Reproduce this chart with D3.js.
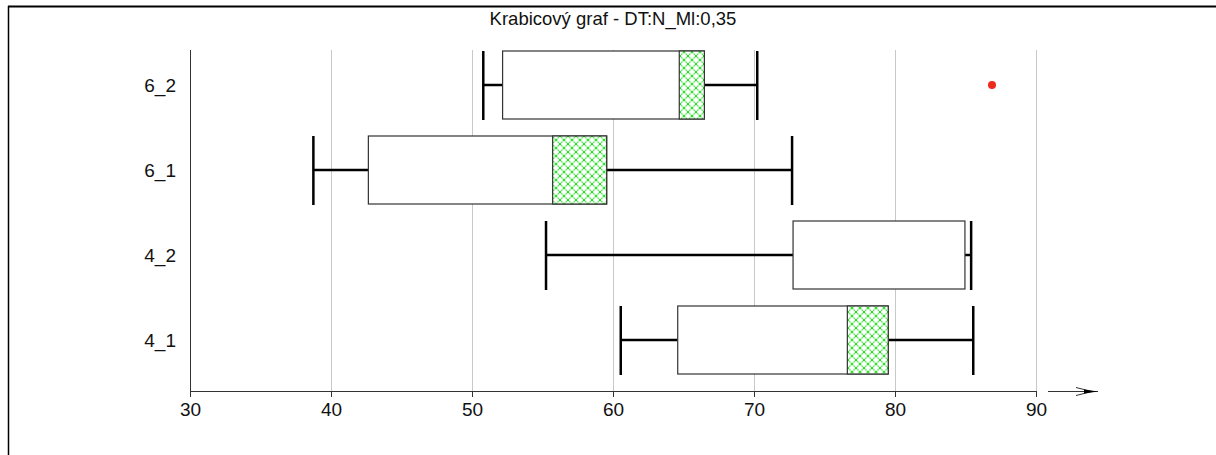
<!DOCTYPE html>
<html><head><meta charset="utf-8">
<script src="https://cdn.jsdelivr.net/npm/d3@7"></script>
<style>body{margin:0;background:#fff}svg{display:block;font-family:"Liberation Sans",Arial,sans-serif}</style>
</head><body><svg id="c" width="1216" height="455"></svg>
<script>
const categories = ["6_2","6_1","4_2","4_1"];
const whiskerLow  = [50.80, 38.75, 55.25, 60.55];
const q1          = [52.17, 42.65, 72.77, 64.59];
const q3          = [66.48, 59.55, 84.96, 79.52];
const whiskerHigh = [70.23, 72.70, 85.40, 85.55];
const hatchStart  = [64.70, 55.72, null, 76.62];
const hatchEnd    = [66.48, 59.55, null, 79.52];
const outliers    = [[86.88], [], [], []];
const xTicks = [30,40,50,60,70,80,90];
const title = "Krabicový graf - DT:N_Ml:0,35";

const svg = d3.select("#c");
const x = d3.scaleLinear().domain([30,90]).range([190,1036]);
const y = d3.scaleBand().domain(categories).range([42.5,382.5]);
const yTop = 50, yBot = 391;

const defs = svg.append("defs");
const pat = defs.append("pattern").attr("id","hatch").attr("patternUnits","userSpaceOnUse")
  .attr("width",8).attr("height",8);
pat.append("rect").attr("width",8).attr("height",8).attr("fill","#fff");
pat.append("path").attr("d","M0,0L8,8M8,0L0,8").attr("stroke","#14e014").attr("stroke-width",1.1).attr("stroke-dasharray","1.4,0.6");

// frame
svg.append("line").attr("x1",8).attr("x2",1216).attr("y1",6.5).attr("y2",6.5).attr("stroke","#000").attr("stroke-width",2);
svg.append("line").attr("x1",8.5).attr("x2",8.5).attr("y1",6).attr("y2",455).attr("stroke","#000").attr("stroke-width",1.5);

// title
svg.append("text").attr("x",613).attr("y",25).attr("text-anchor","middle").attr("font-size",18.5).attr("fill","#111").text(title);

// grid
svg.append("g").selectAll("line").data(xTicks.slice(1)).join("line")
  .attr("x1",d=>x(d)+0.5).attr("x2",d=>x(d)+0.5).attr("y1",yTop).attr("y2",yBot)
  .attr("stroke","#c8c8c8").attr("stroke-width",1);

// x axis
const xa = svg.append("g").attr("transform",`translate(0,${yBot})`)
  .call(d3.axisBottom(x).tickValues(xTicks).tickSize(6).tickPadding(6).tickSizeOuter(0));
xa.select(".domain").attr("stroke","#333");
xa.selectAll(".tick line").attr("stroke","#333");
xa.selectAll(".tick text").attr("font-size",19).attr("fill","#111").attr("font-family","Liberation Sans, Arial, sans-serif");

// y axis
svg.append("line").attr("x1",190.5).attr("x2",190.5).attr("y1",yTop).attr("y2",yBot).attr("stroke","#333");
svg.append("g").selectAll("text").data(categories).join("text")
  .attr("x",176).attr("y",d=>y(d)+y.bandwidth()/2+7).attr("text-anchor","end")
  .attr("font-size",19).attr("fill","#111").text(d=>d);

// arrow
const ax0 = x(90)+12, ax1 = x(90)+62;
const ar = svg.append("g");
ar.append("line").attr("x1",ax0).attr("x2",ax1).attr("y1",yBot+0.5).attr("y2",yBot+0.5).attr("stroke","#333");
ar.append("path").attr("d",`M${ax1-22},${yBot-3.5}L${ax1-6},${yBot+0.5}L${ax1-22},${yBot+4.5}`).attr("fill","none").attr("stroke","#333");
ar.append("path").attr("d",`M${ax1-14},${yBot-1.5}L${ax1},${yBot+0.5}L${ax1-14},${yBot+2.5}Z`).attr("fill","#000");

// boxes
const bh = 68;
const g = svg.append("g");
categories.forEach((c,i)=>{
  const cy = y(c)+y.bandwidth()/2;
  const gg = g.append("g");
  gg.append("line").attr("x1",x(whiskerLow[i])).attr("x2",x(q1[i])).attr("y1",cy).attr("y2",cy).attr("stroke","#000").attr("stroke-width",2.5);
  gg.append("line").attr("x1",x(q3[i])).attr("x2",x(whiskerHigh[i])).attr("y1",cy).attr("y2",cy).attr("stroke","#000").attr("stroke-width",2.5);
  [whiskerLow[i],whiskerHigh[i]].forEach(v=>{
    gg.append("line").attr("x1",x(v)).attr("x2",x(v)).attr("y1",cy-bh/2).attr("y2",cy+bh/2+1).attr("stroke","#000").attr("stroke-width",2.5);
  });
  gg.append("rect").attr("x",x(q1[i])).attr("y",cy-bh/2).attr("width",x(q3[i])-x(q1[i])).attr("height",bh)
    .attr("fill","#fff").attr("stroke","#333").attr("stroke-width",1.2);
  if(hatchStart[i]!=null){
    gg.append("rect").attr("x",x(hatchStart[i])).attr("y",cy-bh/2).attr("width",x(hatchEnd[i])-x(hatchStart[i])).attr("height",bh)
      .attr("fill","url(#hatch)").attr("stroke","#333").attr("stroke-width",1.2);
  }
  outliers[i].forEach(v=>{
    gg.append("circle").attr("cx",x(v)).attr("cy",cy).attr("r",4).attr("fill","#ee2a1a");
  });
});
</script></body></html>
